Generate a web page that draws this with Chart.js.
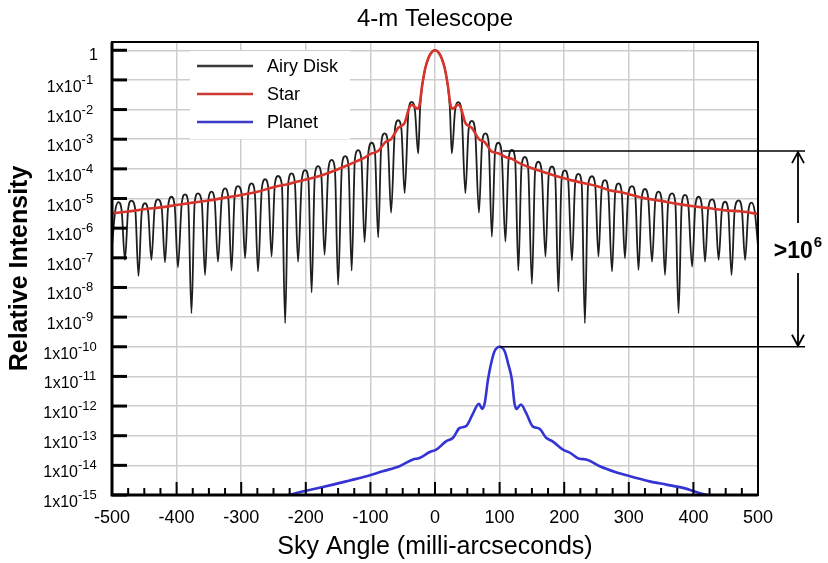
<!DOCTYPE html>
<html>
<head>
<meta charset="utf-8">
<script src="https://cdn.jsdelivr.net/npm/chart.js@4/dist/chart.umd.min.js"></script>
<style>
html,body{margin:0;padding:0;background:#fff;}
#wrap{width:828px;height:563px;}
</style>
</head>
<body>
<div id="wrap"><canvas id="c" width="828" height="563"></canvas></div>
<script>
// ---------------- DATA ----------------
const chartTitle = '4-m Telescope';
const xAxisTitle = 'Sky Angle (milli-arcseconds)';
const yAxisTitle = 'Relative Intensity';
const seriesNames = ['Airy Disk', 'Star', 'Planet'];
const xTickValues = [-500, -400, -300, -200, -100, 0, 100, 200, 300, 400, 500];
const yTickExponents = [0, -1, -2, -3, -4, -5, -6, -7, -8, -9, -10, -11, -12, -13, -14, -15];

// Airy disk: angle (mas) and log10 of relative intensity
const airyAngle = [
  -500,
  -495,-490,-485,-480, -475,-470,-464,-459, -454,-449,-444,-439, -434,-429,-423,-418,
  -413,-408,-403,-398, -392,-387,-382,-377, -372,-367,-361,-356, -351,-346,-341,-336,
  -330,-325,-320,-315, -310,-305,-299,-294, -289,-284,-279,-274, -268,-263,-258,-253,
  -248,-243,-237,-232, -227,-222,-217,-212, -206,-201,-196,-191, -186,-181,-176,-171,
  -165,-160,-155,-150, -144,-139,-134,-129, -124,-119,-114,-109, -103,-98,-93,-88,
  -83,-78,-73,-68, -62,-57,-52,-47, -41,-36,-31,-26,
  -23,-20,-18,-15,-10,-5, 0, 5,10,15,18,20,23,
  26,31,36,41, 47,52,57,62, 68,73,78,83, 88,93,98,103,
  109,114,119,124, 129,134,139,144, 150,155,160,165, 171,176,181,186,
  191,196,201,206, 212,217,222,227, 232,237,243,248, 253,258,263,268,
  274,279,284,289, 294,299,305,310, 315,320,325,330, 336,341,346,351,
  356,361,367,372, 377,382,387,392, 398,403,408,413, 418,423,429,434,
  439,444,449,454, 459,464,470,475, 480,485,490,495,
  500
];
const airyLog10 = [
  -6.6,
  -5.42,-5.12,-5.42,-7.07, -5.37,-5.07,-5.37,-7.61, -5.46,-5.16,-5.46,-7.07, -5.33,-5.03,-5.33,-7.15,
  -5.24,-4.94,-5.24,-7.32, -5.16,-4.86,-5.16,-8.87, -5.13,-4.83,-5.13,-7.58, -5.07,-4.77,-5.07,-7.13,
  -4.96,-4.66,-4.96,-7.43, -4.88,-4.58,-4.88,-7.01, -4.79,-4.49,-4.79,-7.46, -4.65,-4.35,-4.65,-6.96,
  -4.54,-4.24,-4.54,-9.20, -4.45,-4.15,-4.45,-7.13, -4.34,-4.04,-4.34,-8.17, -4.21,-3.91,-4.21,-6.90,
  -4.00,-3.70,-4.00,-7.91, -3.87,-3.57,-3.87,-7.43, -3.67,-3.37,-3.67,-6.47, -3.42,-3.12,-3.42,-6.31,
  -3.10,-2.80,-3.10,-5.48, -2.66,-2.36,-2.66,-4.82, -2.04,-1.74,-2.04,-3.48,
  -1.93,-1.23,-0.95,-0.60,-0.25,-0.06, 0, -0.06,-0.25,-0.60,-0.95,-1.23,-1.93,
  -3.48,-2.05,-1.75,-2.05, -4.82,-2.68,-2.38,-2.68, -5.48,-3.10,-2.80,-3.10, -6.29,-3.42,-3.12,-3.42,
  -6.45,-3.66,-3.36,-3.66, -7.43,-3.90,-3.60,-3.90, -7.88,-4.06,-3.76,-4.06, -6.96,-4.22,-3.92,-4.22,
  -8.14,-4.35,-4.05,-4.35, -7.09,-4.47,-4.17,-4.47, -9.20,-4.55,-4.25,-4.55, -6.96,-4.68,-4.38,-4.68,
  -7.46,-4.79,-4.49,-4.79, -7.01,-4.88,-4.58,-4.88, -7.41,-4.98,-4.68,-4.98, -7.13,-5.07,-4.77,-5.07,
  -7.58,-5.13,-4.83,-5.13, -8.87,-5.18,-4.88,-5.18, -7.30,-5.24,-4.94,-5.24, -7.13,-5.33,-5.03,-5.33,
  -7.07,-5.41,-5.11,-5.41, -7.58,-5.36,-5.06,-5.36, -7.07,-5.44,-5.14,-5.44,
  -6.6
];

// Star (smoothed) profile
const starAngle = [
  -500,-475,-450,-425,-400,-375,-350,-325,-300,-275,
  -250,-225,-200,-180,-160,-140,-125,-109,-98,-88,
  -77,-68,-57,-52,-47,-40,-36,-27,-24,-20,
  -15,-10,-5, 0, 5,10,15,20,24,27,
  36,40,47,52,57,68,77,88,98,109,
  119,130,150,170,190,210,230,250,270,290,
  320,350,375,400,425,450,475,500
];
const starLog10 = [
  -5.50,-5.44,-5.36,-5.30,-5.22,-5.14,-5.07,-4.97,-4.88,-4.77,
  -4.62,-4.50,-4.36,-4.25,-4.10,-3.92,-3.78,-3.62,-3.48,-3.40,
  -3.10,-3.00,-2.62,-2.55,-2.45,-1.95,-1.84,-1.97,-1.85,-1.20,
  -0.60,-0.25,-0.06, 0, -0.06,-0.25,-0.60,-1.20,-1.85,-1.97,
  -1.84,-1.95,-2.45,-2.55,-2.62,-3.00,-3.10,-3.42,-3.47,-3.60,
  -3.66,-3.80,-3.98,-4.12,-4.26,-4.38,-4.48,-4.58,-4.72,-4.80,
  -4.97,-5.08,-5.18,-5.26,-5.33,-5.40,-5.44,-5.52
];

// Planet profile
const planetAngle = [
  -235,-210,-184,-158,-132,-106,-81,-55,-34,-24,
  -8,2,17,28,38,48,58,68,73,77,
  82,87,92,100,108,113,119,123,126,133,
  141,151,162,172,182,198,208,224,234,255,
  280,306,332,358,384,409,430
];
const planetLog10 = [
  -15.05,-14.91,-14.78,-14.65,-14.51,-14.37,-14.20,-14.03,-13.80,-13.75,
  -13.55,-13.47,-13.19,-13.07,-12.74,-12.68,-12.29,-11.92,-12.10,-11.90,
  -11.11,-10.55,-10.16,-10.00,-10.16,-10.55,-11.11,-11.90,-12.10,-11.95,
  -12.23,-12.68,-12.77,-13.07,-13.19,-13.47,-13.56,-13.78,-13.80,-14.03,
  -14.23,-14.39,-14.54,-14.65,-14.76,-14.93,-15.05
];

// Contrast annotation: starting angle and log10 level of the two reference lines
const contrastAngle = [105, 100];
const contrastLog10 = [-3.40, -10];
const contrastText = ['>10', '6'];

// ---------------- CHART ----------------
const FONT = "'Liberation Sans', Arial, Helvetica, sans-serif";
Chart.defaults.font.family = FONT;
Chart.defaults.color = '#000';

const toPts = (xs, ls) => xs.map((v, i) => ({x: v, y: Math.pow(10, ls[i])}));

const decor = {
  id: 'decor',
  afterDatasetsDraw(chart) {
    const {ctx, chartArea: a, scales} = chart;
    const xs = scales.x, ys = scales.y;
    ctx.save();

    // legend box
    ctx.fillStyle = '#fff';
    ctx.fillRect(a.left + 78, a.top + 9, 160, 88);
    chart.data.datasets.forEach((ds, i) => {
      const yy = a.top + 24 + i * 28;
      ctx.strokeStyle = ds.legendColor;
      ctx.lineWidth = 2.5;
      ctx.beginPath();
      ctx.moveTo(a.left + 85, yy);
      ctx.lineTo(a.left + 141, yy);
      ctx.stroke();
      ctx.fillStyle = '#000';
      ctx.font = '18px ' + FONT;
      ctx.textAlign = 'left';
      ctx.textBaseline = 'middle';
      ctx.fillText(ds.label, a.left + 155, yy + 1);
    });

    // x tick marks (inward): major + minor
    ctx.strokeStyle = '#000';
    ctx.lineWidth = 2;
    const xt = xs.ticks.map(t => t.value);
    for (let i = 0; i < xt.length; i++) {
      const px = xs.getPixelForValue(xt[i]);
      ctx.beginPath(); ctx.moveTo(px, a.bottom); ctx.lineTo(px, a.bottom - 13); ctx.stroke();
      if (i < xt.length - 1) {
        const step = (xt[i + 1] - xt[i]) / 4;
        for (let k = 1; k < 4; k++) {
          const mx = xs.getPixelForValue(xt[i] + k * step);
          ctx.beginPath(); ctx.moveTo(mx, a.bottom); ctx.lineTo(mx, a.bottom - 7); ctx.stroke();
        }
      }
    }
    // y tick marks (inward)
    ctx.lineWidth = 3;
    ys.ticks.forEach(t => {
      const py = ys.getPixelForValue(t.value);
      ctx.beginPath(); ctx.moveTo(a.left, py); ctx.lineTo(a.left + 15, py); ctx.stroke();
    });

    // frame
    ctx.lineWidth = 2;
    ctx.strokeRect(a.left, a.top, a.right - a.left, a.bottom - a.top);
    ctx.lineWidth = 3;
    ctx.beginPath();
    ctx.moveTo(a.left, a.top); ctx.lineTo(a.left, a.bottom); ctx.lineTo(a.right, a.bottom);
    ctx.stroke();

    // y tick labels with superscript exponents (centred in the label column)
    ctx.fillStyle = '#000';
    const cx = a.left - 42;
    yTickExponents.forEach(e => {
      const py = ys.getPixelForValue(Math.pow(10, e));
      ctx.textBaseline = 'alphabetic';
      if (e === 0) {
        ctx.font = '16px ' + FONT;
        ctx.textAlign = 'right';
        ctx.fillText('1', a.left - 14, py + 10);
      } else {
        const sup = '-' + Math.abs(e);
        ctx.font = '13px ' + FONT;
        const sw = ctx.measureText(sup).width;
        ctx.font = '16px ' + FONT;
        const mw = ctx.measureText('1x10').width;
        const x0 = cx - (mw + sw) / 2;
        ctx.textAlign = 'left';
        ctx.fillText('1x10', x0, py + 12);
        ctx.font = '13px ' + FONT;
        ctx.fillText(sup, x0 + mw, py + 4);
      }
    });

    // contrast annotation
    const ax = a.right + 40;
    const endX = a.right + 47;
    const lv = contrastLog10.map(l => ys.getPixelForValue(Math.pow(10, l)));
    ctx.strokeStyle = '#000';
    ctx.lineWidth = 1.6;
    contrastAngle.forEach((ang, i) => {
      ctx.beginPath();
      ctx.moveTo(xs.getPixelForValue(ang), lv[i]);
      ctx.lineTo(endX, lv[i]);
      ctx.stroke();
    });
    const midY = (lv[0] + lv[1]) / 2;
    ctx.lineWidth = 1.8;
    ctx.beginPath(); ctx.moveTo(ax, lv[0] + 1); ctx.lineTo(ax, midY - 26); ctx.stroke();
    ctx.beginPath(); ctx.moveTo(ax - 6, lv[0] + 12); ctx.lineTo(ax, lv[0] + 1); ctx.lineTo(ax + 6, lv[0] + 12); ctx.stroke();
    ctx.beginPath(); ctx.moveTo(ax, midY + 24); ctx.lineTo(ax, lv[1] - 1); ctx.stroke();
    ctx.beginPath(); ctx.moveTo(ax - 6, lv[1] - 12); ctx.lineTo(ax, lv[1] - 1); ctx.lineTo(ax + 6, lv[1] - 12); ctx.stroke();
    ctx.font = 'bold 23px ' + FONT;
    const w1 = ctx.measureText(contrastText[0]).width;
    ctx.font = 'bold 15px ' + FONT;
    const w2 = ctx.measureText(contrastText[1]).width;
    const tx = ax - (w1 + w2 + 1) / 2;
    ctx.textAlign = 'left';
    ctx.textBaseline = 'alphabetic';
    ctx.font = 'bold 23px ' + FONT;
    ctx.fillText(contrastText[0], tx, midY + 9);
    ctx.font = 'bold 15px ' + FONT;
    ctx.fillText(contrastText[1], tx + w1 + 1, midY - 2);

    ctx.restore();
  }
};

new Chart(document.getElementById('c'), {
  type: 'line',
  data: {
    datasets: [
      {label: seriesNames[0], data: toPts(airyAngle, airyLog10), borderColor: '#1e1e1e', legendColor: '#3a3a3a',
       borderWidth: 1.8, pointRadius: 0, cubicInterpolationMode: 'monotone', order: 2, fill: false},
      {label: seriesNames[1], data: toPts(starAngle, starLog10), borderColor: '#d8342c', legendColor: '#cc3b33',
       borderWidth: 2.6, pointRadius: 0, cubicInterpolationMode: 'monotone', order: 1, fill: false},
      {label: seriesNames[2], data: toPts(planetAngle, planetLog10), borderColor: '#3434d4', legendColor: '#3b3bc8',
       borderWidth: 2.6, pointRadius: 0, cubicInterpolationMode: 'monotone', order: 3, fill: false}
    ]
  },
  options: {
    responsive: false,
    animation: false,
    events: [],
    layout: {padding: {left: 0, right: 70, top: 0, bottom: 0}},
    plugins: {
      legend: {display: false},
      tooltip: {enabled: false},
      title: {display: true, text: chartTitle, fullSize: false, color: '#000',
              font: {family: FONT, size: 24, weight: 'normal'}, padding: {top: 5, bottom: 8.2}}
    },
    scales: {
      x: {
        type: 'linear', min: -500, max: 500,
        afterBuildTicks: s => { s.ticks = xTickValues.map(v => ({value: v})); },
        ticks: {font: {size: 18}, color: '#000', padding: 12, autoSkip: false, maxRotation: 0,
                callback: v => String(v)},
        grid: {color: '#cdcdcd', lineWidth: 1.5, drawTicks: false},
        border: {display: false},
        title: {display: true, text: xAxisTitle, color: '#000', font: {size: 25}, padding: {top: 0, bottom: 1}},
        afterFit: s => { s.height = 68; }
      },
      y: {
        type: 'logarithmic', min: 1e-15, max: 1.9,
        afterBuildTicks: s => { s.ticks = yTickExponents.map(e => ({value: Math.pow(10, e)})); },
        ticks: {display: false},
        grid: {color: '#cdcdcd', lineWidth: 1.5, drawTicks: false},
        border: {display: false},
        title: {display: true, text: yAxisTitle, color: '#000', font: {size: 25, weight: 'bold'}, padding: {top: 5, bottom: 0}},
        afterFit: s => { s.width = 112; }
      }
    }
  },
  plugins: [decor]
});
</script>
</body>
</html>
